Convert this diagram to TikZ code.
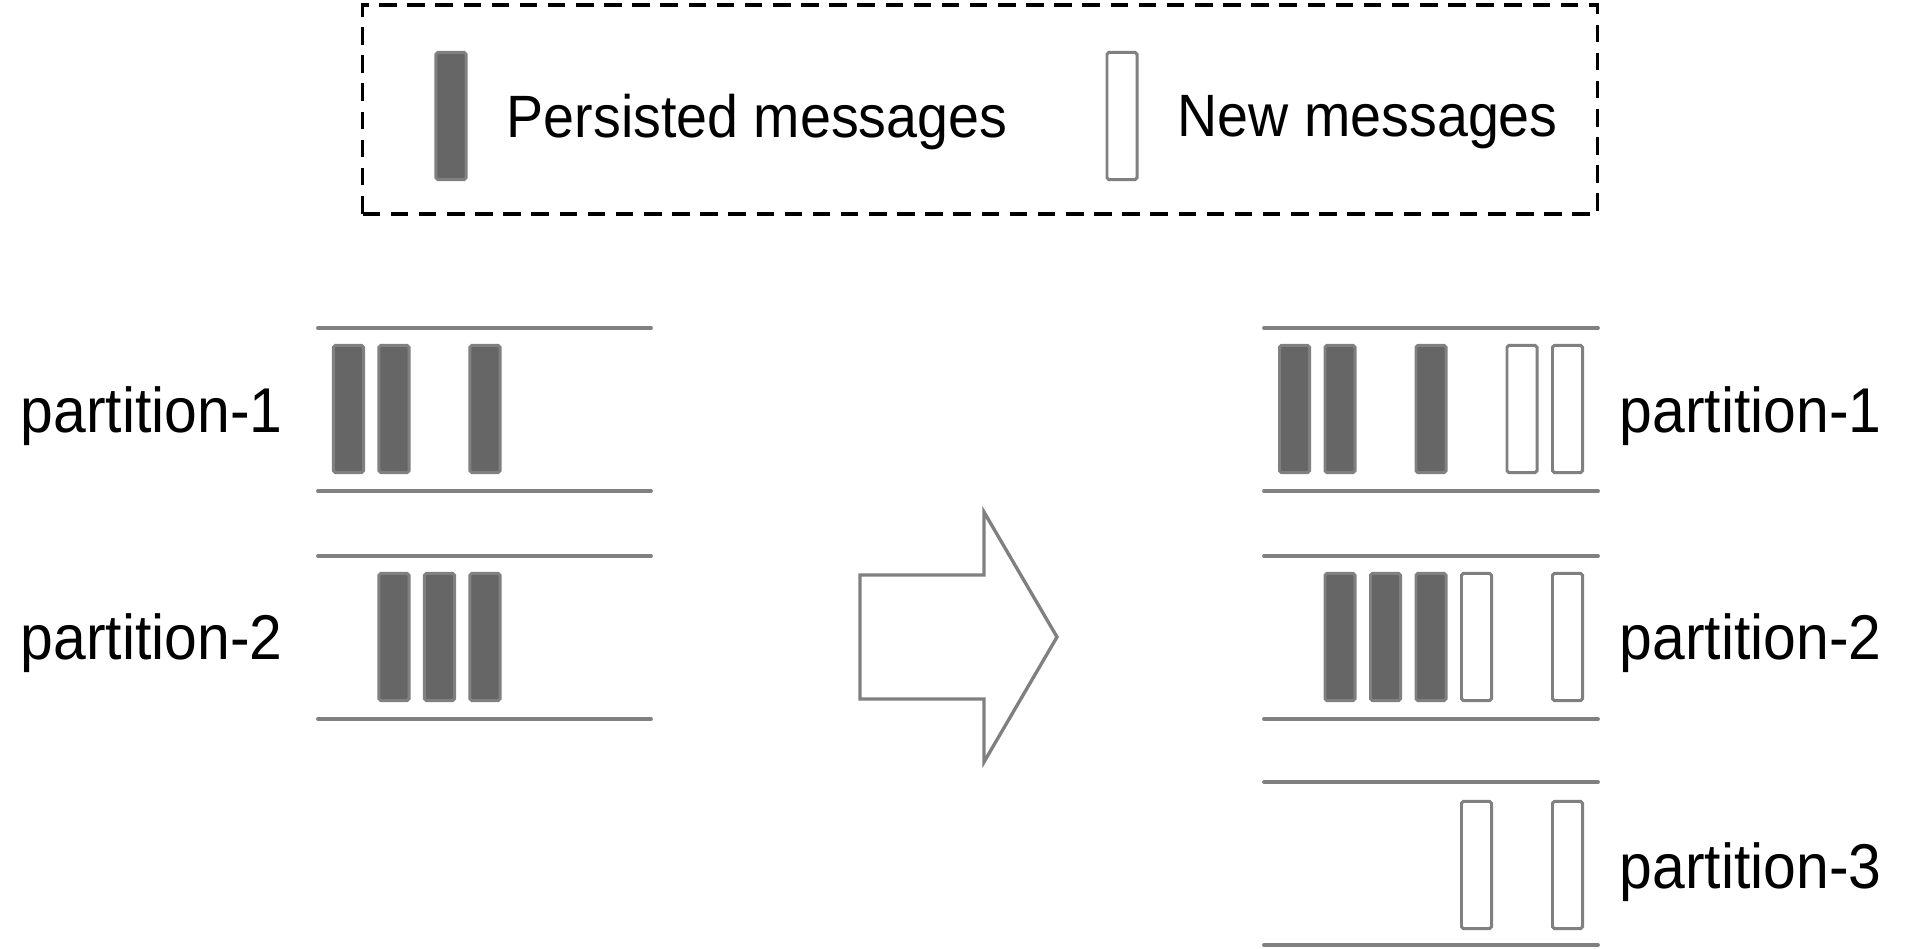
\documentclass[tikz,border=0pt]{standalone}
\usepackage{fontspec}
\setmainfont{Liberation Sans}[FakeStretch=0.93]
\usepackage{xcolor}
\definecolor{oldfill}{rgb}{0.40,0.40,0.40}
\definecolor{msgline}{rgb}{0.50,0.50,0.50}
\usetikzlibrary{positioning, fit}

\begin{document}
\begin{tikzpicture}[
  x=0.01cm, y=-0.01cm,
  msg/.style={draw=msgline, line width=0.85pt, rounded corners=0.5pt,
              minimum width=0.30cm, minimum height=1.27cm, inner sep=0pt},
  persisted/.style={msg, fill=oldfill},
  fresh/.style={msg, fill=white},
  rail/.style={draw=msgline, line width=1.1pt, line cap=round},
  keytext/.style={font=\fontsize{17}{21}\selectfont, inner sep=0pt, anchor=west},
  plabel/.style={font=\fontsize{18}{22}\selectfont, inner sep=0pt, anchor=west},
  legendbox/.style={draw, dashed, dash pattern=on 5pt off 3pt, line width=1pt,
                    minimum width=12.34cm, minimum height=2.09cm, inner sep=0pt},
  bigarrow/.style={draw=msgline, line width=0.95pt, fill=white, line join=miter},
]
\useasboundingbox (0,0) rectangle (1920,949);

% Legend
\node[legendbox] (legend) at (980,109.5) {};
\node[persisted] (keyold) at (451,116) {};
\node[fresh] (keynew) at (1122,116) {};
\node[keytext] (keyoldtxt) at (506,122) {Persisted messages};
\node[keytext] (keynewtxt) at (1177,122) {New messages};

% Before: two partitions
\foreach \y in {328,491,556,719}
  \draw[rail] (318,\y) -- (651,\y);
\foreach \k in {0,1,3}
  \node[persisted] (lpa\k) at ({348.5+45.5*\k},409) {};
\foreach \k in {1,2,3}
  \node[persisted] (lpb\k) at ({348.5+45.5*\k},637) {};
\node[plabel] (lpalbl) at (20,416) {partition-1};
\node[plabel] (lpblbl) at (20,643) {partition-2};

% Arrow
\draw[bigarrow] (860,575) -- (984,575) -- (984,512) -- (1057,637)
  -- (984,762) -- (984,699) -- (860,699) -- cycle;

% After: three partitions
\foreach \y in {328,491,556,719,782,945}
  \draw[rail] (1264,\y) -- (1598,\y);
\foreach \k in {0,1,3}
  \node[persisted] (rpa\k) at ({1294.5+45.5*\k},409) {};
\foreach \k in {5,6}
  \node[fresh] (rpa\k) at ({1294.5+45.5*\k},409) {};
\foreach \k in {1,2,3}
  \node[persisted] (rpb\k) at ({1294.5+45.5*\k},637) {};
\foreach \k in {4,6}
  \node[fresh] (rpb\k) at ({1294.5+45.5*\k},637) {};
\foreach \k in {4,6}
  \node[fresh] (rpc\k) at ({1294.5+45.5*\k},865) {};
\node[plabel] (rpalbl) at (1619,416) {partition-1};
\node[plabel] (rpblbl) at (1619,643) {partition-2};
\node[plabel] (rpclbl) at (1619,872) {partition-3};
\end{tikzpicture}
\end{document}
